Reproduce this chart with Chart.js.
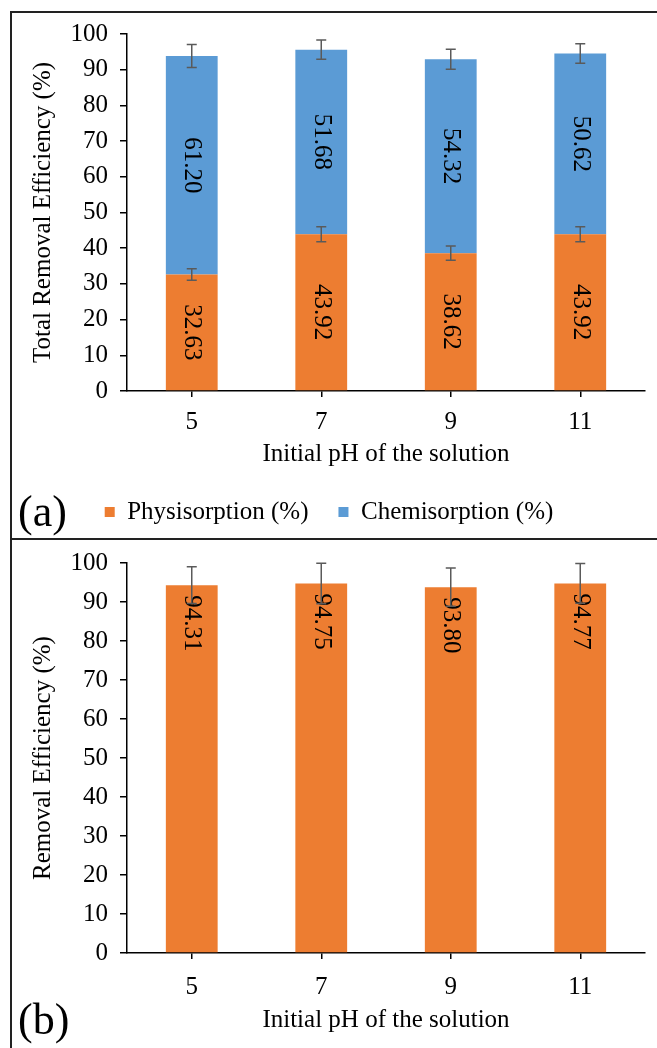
<!DOCTYPE html>
<html>
<head>
<meta charset="utf-8">
<script src="https://cdn.jsdelivr.net/npm/chart.js@4.4.1/dist/chart.umd.min.js"></script>
<style>
    body { margin: 0; width: 657px; height: 1048px; overflow: hidden; background: #fff; position: relative;
           font-family: "Liberation Serif", "Times New Roman", serif; }
    #frame { position: absolute; left: 10px; top: 11px; width: 700px; height: 1100px;
             border-left: 2px solid #222; border-top: 2px solid #222; }
    #sep { position: absolute; left: 10px; top: 538px; width: 700px; height: 2px; background: #222; }
    canvas { position: absolute; left: 13px; }
    #chartA { top: 7px; }
    #chartB { top: 536px; }
    .tag { position: absolute; left: 18px; font-size: 44px; line-height: 44px; color: #000; }
    #tagA { top: 490px; }
    #tagB { top: 998px; }
</style>
</head>
<body>
<canvas id="chartA" width="644" height="531"></canvas>
<canvas id="chartB" width="644" height="512"></canvas>
<div id="frame"></div>
<div id="sep"></div>
<div class="tag" id="tagA">(a)</div>
<div class="tag" id="tagB">(b)</div>
<script>
// data
var phLabels = ['5', '7', '9', '11'];
var physisorption = [32.63, 43.92, 38.62, 43.92];
var physisorptionErr = [1.6, 2.1, 2.0, 2.1];
var chemisorption = [61.20, 51.68, 54.32, 50.62];
var chemisorptionErr = [3.2, 2.7, 2.8, 2.7];
var removal = [94.31, 94.75, 93.80, 94.77];
var removalErr = [4.7, 5.2, 4.9, 5.1];
var Y_MIN = 0, Y_MAX = 100, Y_STEP = 10;

var ORANGE = '#ED7D31';
var BLUE = '#5B9BD5';
var FONT_FAMILY = '"Liberation Serif", "Times New Roman", serif';
var FONT_SIZE = 25;

// value labels, rotated like the excel ones
var barLabels = {
    id: 'barLabels',
    afterDatasetsDraw: function(chart, args, opts) {
        var ctx = chart.ctx;
        chart.data.datasets.forEach(function(ds, di) {
            var meta = chart.getDatasetMeta(di);
            meta.data.forEach(function(bar, i) {
                var p = bar.getProps(['x', 'y', 'base'], true);
                ctx.save();
                ctx.font = FONT_SIZE + 'px ' + FONT_FAMILY;
                ctx.fillStyle = '#000';
                ctx.textBaseline = 'middle';
                if (opts.anchor === 'end') {
                    ctx.translate(p.x, p.y + opts.offset);
                    ctx.textAlign = 'left';
                } else {
                    ctx.translate(p.x, (p.y + p.base) / 2);
                    ctx.textAlign = 'center';
                }
                ctx.rotate(Math.PI / 2);
                ctx.fillText(ds.data[i].toFixed(2), 0, 0);
                ctx.restore();
            });
        });
    }
};

// error bars drawn on top of the (stacked) bars
var errorBars = {
    id: 'errorBars',
    afterDatasetsDraw: function(chart) {
        var ctx = chart.ctx;
        var yScale = chart.scales.y;
        var tops = chart.data.labels.map(function() { return 0; });
        chart.data.datasets.forEach(function(ds, di) {
            var meta = chart.getDatasetMeta(di);
            meta.data.forEach(function(bar, i) {
                tops[i] += ds.data[i];
                if (!ds.errors) {
                    return;
                }
                var hi = yScale.getPixelForValue(tops[i] + ds.errors[i]);
                var lo = yScale.getPixelForValue(tops[i] - ds.errors[i]);
                ctx.save();
                ctx.strokeStyle = '#5a5a5a';
                ctx.lineWidth = 1.5;
                ctx.beginPath();
                ctx.moveTo(bar.x, hi); ctx.lineTo(bar.x, lo);
                ctx.moveTo(bar.x - 5, hi); ctx.lineTo(bar.x + 5, hi);
                ctx.moveTo(bar.x - 5, lo); ctx.lineTo(bar.x + 5, lo);
                ctx.stroke();
                ctx.restore();
            });
        });
    }
};

function font() {
    return { family: FONT_FAMILY, size: FONT_SIZE };
}

function scales(yTitle, xHeight, xTickPad, xTitlePad, stacked) {
    return {
        x: {
            stacked: stacked,
            afterFit: function(scale) { scale.height = xHeight; },
            grid: { offset: false, drawOnChartArea: false, drawTicks: true, tickLength: 6, color: '#000', lineWidth: 1.5 },
            border: { color: '#000', width: 1.5 },
            ticks: { color: '#000', font: font(), padding: xTickPad },
            title: { display: true, text: 'Initial pH of the solution', color: '#000', font: font(),
                     padding: { top: 0, bottom: xTitlePad } }
        },
        y: {
            stacked: stacked,
            min: Y_MIN,
            max: Y_MAX,
            afterFit: function(scale) { scale.width = 114; },
            grid: { drawOnChartArea: false, drawTicks: true, tickLength: 7, color: '#000', lineWidth: 1.5 },
            border: { color: '#000', width: 1.5 },
            ticks: { stepSize: Y_STEP, color: '#000', font: font(), padding: 12 },
            title: { display: true, text: yTitle, color: '#000', font: font(),
                     padding: { top: 15, bottom: 0 } }
        }
    };
}

new Chart(document.getElementById('chartA'), {
    type: 'bar',
    data: {
        labels: phLabels,
        datasets: [
            { label: 'Physisorption (%)', data: physisorption, errors: physisorptionErr,
              backgroundColor: ORANGE, barPercentage: 0.4, categoryPercentage: 1 },
            { label: 'Chemisorption (%)', data: chemisorption, errors: chemisorptionErr,
              backgroundColor: BLUE, barPercentage: 0.4, categoryPercentage: 1 }
        ]
    },
    options: {
        responsive: false,
        animation: false,
        layout: { padding: { top: 0, right: 12, left: 0, bottom: 3.5 } },
        scales: scales('Total Removal Efficiency (%)', 78.5, 10, 0, true),
        plugins: {
            legend: {
                position: 'bottom',
                labels: { color: '#000', font: font(), boxWidth: 10, boxHeight: 10, padding: 30 }
            },
            tooltip: { enabled: false },
            barLabels: { anchor: 'center' }
        }
    },
    plugins: [barLabels, errorBars]
});

new Chart(document.getElementById('chartB'), {
    type: 'bar',
    data: {
        labels: phLabels,
        datasets: [
            { label: 'Removal Efficiency (%)', data: removal, errors: removalErr,
              backgroundColor: ORANGE, barPercentage: 0.4, categoryPercentage: 1 }
        ]
    },
    options: {
        responsive: false,
        animation: false,
        layout: { padding: { top: 0, right: 12, left: 0, bottom: 0 } },
        scales: scales('Removal Efficiency (%)', 95, 13, 13, false),
        plugins: {
            legend: { display: false },
            tooltip: { enabled: false },
            barLabels: { anchor: 'end', offset: 10 }
        }
    },
    plugins: [barLabels, errorBars]
});
</script>
</body>
</html>
